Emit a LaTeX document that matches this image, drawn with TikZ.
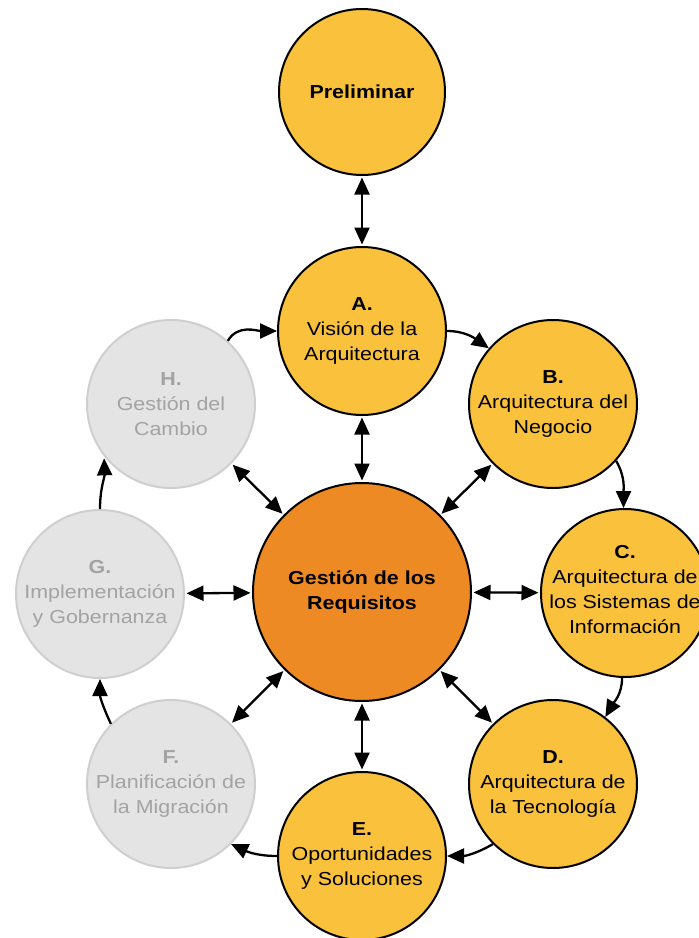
\documentclass[tikz,border=0pt]{standalone}
\usepackage{fontspec}
\setmainfont{Liberation Sans}[FakeStretch=1.14]
\usetikzlibrary{arrows.meta}
\definecolor{yel}{HTML}{F9C13C}
\definecolor{org}{HTML}{EE8A24}
\definecolor{gfill}{HTML}{E4E4E4}
\definecolor{gline}{HTML}{CFCFCF}
\definecolor{gtext}{HTML}{A3A3A3}
\tikzset{
 phase/.style={circle, draw=black, line width=2pt, fill=yel, minimum size=168pt, inner sep=0pt},
 prelim/.style={phase, minimum size=166pt},
 core/.style={phase, fill=org, minimum size=218pt},
 grey/.style={phase, fill=gfill, draw=gline},
 txt/.style={inner sep=0pt, align=center, font=\fontsize{18.8}{25}\selectfont},
 gtxt/.style={txt, text=gtext},
 btxt/.style={txt, font=\fontsize{18.8}{25}\selectfont\bfseries},
 tip/.tip={Triangle[length=17pt,width=15pt]},
 arr/.style={line width=2.3pt, -tip},
 biarr/.style={line width=2.3pt, tip-tip, shorten <=1.5pt, shorten >=1.5pt},
}
\begin{document}
\begin{tikzpicture}[x=1pt,y=1pt]
\useasboundingbox (0,0) rectangle (699,-938);
\fill[white] (0,0) rectangle (699,-938);
% circles
\node[prelim] (P) at (362,-92) {};
\node[phase] (A) at (362,-331) {};
\node[phase] (B) at (553,-404) {};
\node[phase] (C) at (625,-593) {};
\node[phase] (D) at (553,-784) {};
\node[phase] (E) at (362,-856) {};
\node[grey] (F) at (171,-784) {};
\node[grey] (G) at (100,-594) {};
\node[grey] (H) at (171,-404) {};
\node[core] (M) at (362,-592) {};
% texts
\node[btxt] (Pt) at (P) {Preliminar};
\node[txt] (At) at (A) {\textbf{A.}\\Visión de la\\Arquitectura};
\node[txt] (Bt) at (B) {\textbf{B.}\\Arquitectura del\\Negocio};
\node[txt] (Ct) at ([yshift=3pt]C) {\textbf{C.}\\Arquitectura de\\los Sistemas de\\Información};
\node[txt] (Dt) at (D) {\textbf{D.}\\Arquitectura de\\la Tecnología};
\node[txt] (Et) at (E) {\textbf{E.}\\Oportunidades\\y Soluciones};
\node[gtxt] (Ft) at (F) {\textbf{F.}\\Planificación de\\la Migración};
\node[gtxt] (Gt) at (G) {\textbf{G.}\\Implementación\\y Gobernanza};
\node[gtxt] (Ht) at (H) {\textbf{H.}\\Gestión del\\Cambio};
\node[btxt] (Mt) at (M) {Gestión de los\\Requisitos};
% two-way arrows
\draw[biarr] (P) -- (A);
\draw[biarr] (M) -- (A);
\draw[biarr] (M) -- (B);
\draw[biarr] (M) -- (C);
\draw[biarr] (M) -- (D);
\draw[biarr] (M) -- (E);
\draw[biarr] (M) -- (F);
\draw[biarr] (M) -- (G);
\draw[biarr] (M) -- (H);
% cycle
\draw[arr] (A.0) to[out=0,in=145] (B.139);
\draw[arr] (B.-42) to[out=-60,in=90] (C.91);
\draw[arr] (C.-92) to[out=-90,in=60] (D.52);
\draw[arr] (D.-135) to[out=-150,in=0] (E.0);
\draw[arr] (E.180) to[out=180,in=-25] (F.-45);
\draw[arr] (F.135) to[out=115,in=-90] (G.-90);
\draw[arr, shorten >=2pt] (G.90) to[out=90,in=-88] (H.-142);
\draw[arr] (H.48) to[out=60,in=180] (A.180);
\end{tikzpicture}
\end{document}
